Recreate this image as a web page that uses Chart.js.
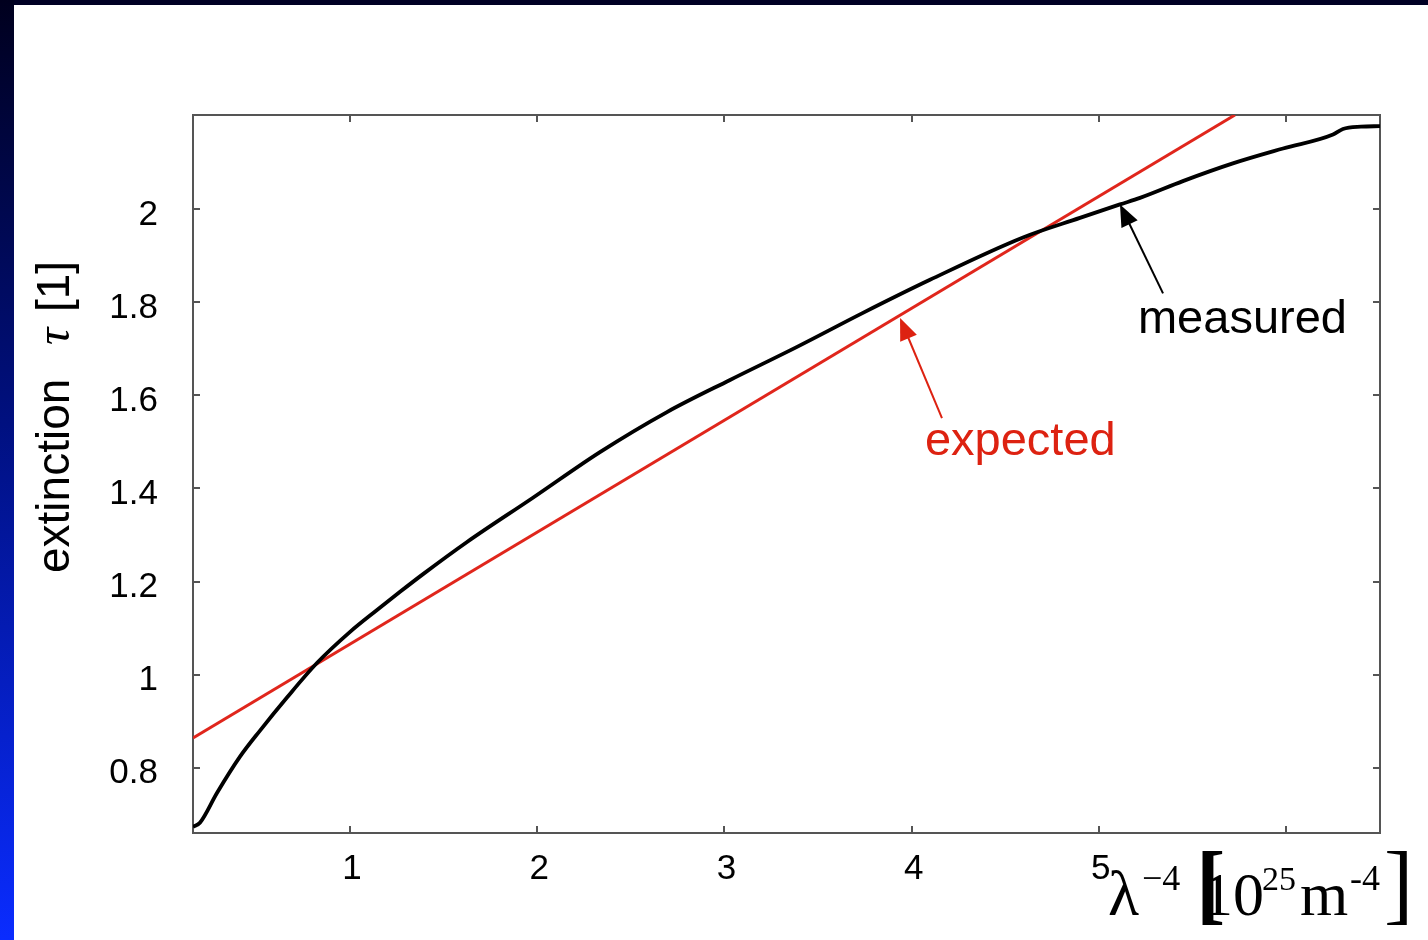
<!DOCTYPE html>
<html>
<head>
<meta charset="utf-8">
<script src="https://cdn.jsdelivr.net/npm/chart.js@4/dist/chart.umd.min.js"></script>
<style>
  html, body { margin: 0; padding: 0; background: #fff; }
  body { width: 1428px; height: 940px; position: relative; overflow: hidden; }
  #topBar { position: absolute; left: 0; top: 0; width: 1428px; height: 5px; background: #000024; }
  #leftBar { position: absolute; left: 0; top: 0; width: 14px; height: 940px;
    background: linear-gradient(to bottom, #00001e 0%, #001080 45%, #0a2cff 100%); }
  #wrap { position: absolute; left: 0; top: 0; width: 1428px; height: 940px; }
</style>
</head>
<body>
<div id="topBar"></div>
<div id="leftBar"></div>
<div id="wrap"><canvas id="extChart"></canvas></div>
<script>
// lambda^-4 [10^25 m^-4] vs extinction tau
const measuredX = [0.161, 0.198, 0.289, 0.412, 0.519, 0.663, 0.823, 1.0, 1.144, 1.267, 1.390, 1.625, 1.977,
  2.335, 2.693, 3.030, 3.388, 3.740, 4.098, 4.595, 4.899, 5.113, 5.220, 5.449, 5.716, 5.984,
  6.251, 6.304, 6.400, 6.502];
const measuredY = [0.673, 0.682, 0.746, 0.824, 0.880, 0.951, 1.025, 1.092, 1.139, 1.178, 1.216, 1.285, 1.380,
  1.478, 1.564, 1.633, 1.704, 1.777, 1.848, 1.939, 1.981, 2.010, 2.024, 2.060, 2.098, 2.130,
  2.160, 2.172, 2.177, 2.178];
const expectedX = [0.161, 5.727];
const expectedY = [0.864, 2.202];

const xTicks = [1, 2, 3, 4, 5, 6];
const xTickLabels = ["1", "2", "3", "4", "5", ""];
const yTicks = [0.8, 1, 1.2, 1.4, 1.6, 1.8, 2];
const yTickLabels = ["0.8", "1", "1.2", "1.4", "1.6", "1.8", "2"];

// annotation anchors in data units
const measuredNote = { text: "measured", x: 5.209, y: 1.733, tip: [5.113, 2.010], tail: [5.343, 1.819] };
const expectedNote = { text: "expected", x: 4.071, y: 1.472, tip: [3.938, 1.766], tail: [4.162, 1.551] };

const RED = "#dd2211";
const SANS = '"Liberation Sans", Arial, sans-serif';
const SERIF = '"Liberation Serif", "Times New Roman", serif';

function toPoints(xs, ys) {
  return xs.map((x, i) => ({ x: x, y: ys[i] }));
}

function arrow(ctx, x0, y0, x1, y1, color) {
  const ang = Math.atan2(y1 - y0, x1 - x0);
  const len = 22, half = 9;
  ctx.save();
  ctx.strokeStyle = color;
  ctx.fillStyle = color;
  ctx.lineWidth = 2;
  ctx.beginPath();
  ctx.moveTo(x0, y0);
  ctx.lineTo(x1 - Math.cos(ang) * len * 0.8, y1 - Math.sin(ang) * len * 0.8);
  ctx.stroke();
  ctx.beginPath();
  ctx.moveTo(x1, y1);
  ctx.lineTo(x1 - Math.cos(ang) * len - Math.sin(ang) * half, y1 - Math.sin(ang) * len + Math.cos(ang) * half);
  ctx.lineTo(x1 - Math.cos(ang) * len + Math.sin(ang) * half, y1 - Math.sin(ang) * len - Math.cos(ang) * half);
  ctx.closePath();
  ctx.fill();
  ctx.restore();
}

const frame = {
  id: "frame",
  beforeDatasetsDraw(chart) {
    const { ctx, chartArea: a, scales } = chart;
    ctx.save();
    ctx.strokeStyle = "#555";
    ctx.lineWidth = 2;
    ctx.strokeRect(a.left, a.top, a.right - a.left, a.bottom - a.top);
    ctx.beginPath();
    xTicks.forEach(v => {
      const px = Math.round(scales.x.getPixelForValue(v));
      ctx.moveTo(px, a.bottom); ctx.lineTo(px, a.bottom - 7);
      ctx.moveTo(px, a.top); ctx.lineTo(px, a.top + 7);
    });
    yTicks.forEach(v => {
      const py = Math.round(scales.y.getPixelForValue(v));
      ctx.moveTo(a.left, py); ctx.lineTo(a.left + 7, py);
      ctx.moveTo(a.right, py); ctx.lineTo(a.right - 7, py);
    });
    ctx.stroke();
    ctx.restore();
  },
  afterDraw(chart) {
    const { ctx, chartArea: a, scales } = chart;
    const sx = v => scales.x.getPixelForValue(v);
    const sy = v => scales.y.getPixelForValue(v);

    // annotations
    ctx.save();
    ctx.font = "47px " + SANS;
    ctx.textBaseline = "alphabetic";
    ctx.fillStyle = "#000";
    ctx.fillText(measuredNote.text, sx(measuredNote.x), sy(measuredNote.y));
    ctx.fillStyle = RED;
    ctx.fillText(expectedNote.text, sx(expectedNote.x), sy(expectedNote.y));
    ctx.restore();
    arrow(ctx, sx(measuredNote.tail[0]), sy(measuredNote.tail[1]), sx(measuredNote.tip[0]), sy(measuredNote.tip[1]), "#000");
    arrow(ctx, sx(expectedNote.tail[0]), sy(expectedNote.tail[1]), sx(expectedNote.tip[0]), sy(expectedNote.tip[1]), RED);

    // y axis title
    ctx.save();
    ctx.translate(69, 573);
    ctx.rotate(-Math.PI / 2);
    ctx.fillStyle = "#000";
    ctx.textBaseline = "alphabetic";
    ctx.font = "46px " + SANS;
    ctx.fillText("extinction", 0, 0);
    ctx.font = "italic 48px " + SERIF;
    ctx.fillText("τ", 228, 0);
    ctx.font = "46px " + SANS;
    ctx.fillText("[1]", 261, 0);
    ctx.restore();

    // x axis title
    ctx.save();
    ctx.fillStyle = "#000";
    ctx.textBaseline = "alphabetic";
    const base = a.bottom + 82;
    const sup = a.bottom + 57;
    ctx.font = "64px " + SERIF;
    ctx.fillText("λ", 1108, base);
    ctx.font = "36px " + SERIF;
    ctx.fillText("−4", 1142, sup);
    ctx.font = "bold 88px " + SERIF;
    ctx.fillText("[", 1196, a.bottom + 80);
    ctx.font = "62px " + SERIF;
    ctx.fillText("10", 1202, base);
    ctx.font = "34px " + SERIF;
    ctx.fillText("25", 1262, sup);
    ctx.font = "62px " + SERIF;
    ctx.fillText("m", 1300, base);
    ctx.font = "36px " + SERIF;
    ctx.fillText("-4", 1350, sup);
    ctx.font = "88px " + SERIF;
    ctx.fillText("]", 1384, a.bottom + 80);
    ctx.restore();
  }
};

new Chart(document.getElementById("extChart"), {
  type: "line",
  data: {
    datasets: [
      {
        label: "measured",
        data: toPoints(measuredX, measuredY),
        borderColor: "#000",
        borderWidth: 3.8,
        pointRadius: 0,
        cubicInterpolationMode: "monotone",
      },
      {
        label: "expected",
        data: toPoints(expectedX, expectedY),
        borderColor: "#e0261c",
        borderWidth: 3,
        pointRadius: 0,
      },
    ],
  },
  options: {
    responsive: true,
    maintainAspectRatio: false,
    animation: false,
    events: [],
    layout: { padding: { left: 0, top: 115, right: 48, bottom: 0 } },
    plugins: {
      legend: { display: false },
      tooltip: { enabled: false },
    },
    scales: {
      x: {
        type: "linear",
        min: 0.161,
        max: 6.502,
        afterBuildTicks: s => { s.ticks = xTicks.map(v => ({ value: v })); },
        afterFit: s => { s.height = 107; },
        ticks: {
          color: "#000",
          font: { family: SANS, size: 35 },
          padding: 15,
          labelOffset: 2,
          maxRotation: 0,
          autoSkip: false,
          callback: (v, i) => xTickLabels[i],
        },
        grid: { display: false, drawTicks: false },
        border: { display: false },
      },
      y: {
        min: 0.66,
        max: 2.202,
        afterBuildTicks: s => { s.ticks = yTicks.map(v => ({ value: v })); },
        afterFit: s => { s.width = 193; },
        ticks: {
          color: "#000",
          font: { family: SANS, size: 35 },
          padding: 35,
          labelOffset: 6,
          autoSkip: false,
          callback: (v, i) => yTickLabels[i],
        },
        grid: { display: false, drawTicks: false },
        border: { display: false },
      },
    },
  },
  plugins: [frame],
});
</script>
</body>
</html>
